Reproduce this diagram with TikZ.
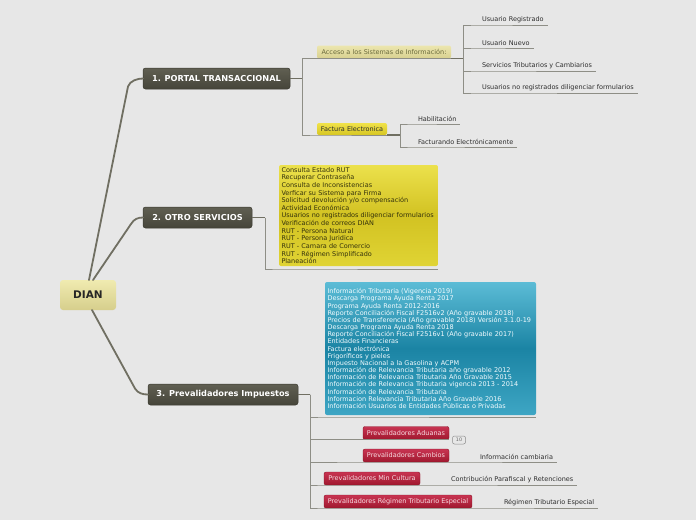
\documentclass[tikz,border=0pt]{standalone}
\usepackage{fontspec}
\setmainfont{DejaVu Sans}
\definecolor{bgc}{HTML}{E7E7E7}
\definecolor{maintop}{HTML}{605F52}
\definecolor{mainbot}{HTML}{46453A}
\definecolor{mainbd}{HTML}{3C3B32}
\definecolor{trunkc}{HTML}{706F62}
\definecolor{linec}{HTML}{8E8E86}
\definecolor{leaftext}{HTML}{2E2E2E}
\definecolor{diantop}{HTML}{F0EBB0}
\definecolor{dianbot}{HTML}{D6CE8C}
\definecolor{acctop}{HTML}{ECE6AE}
\definecolor{accbot}{HTML}{D8D090}
\definecolor{acctext}{HTML}{6A6A3C}
\definecolor{factop}{HTML}{F0E24A}
\definecolor{facbot}{HTML}{D6C622}
\definecolor{ytop}{HTML}{ECE14C}
\definecolor{ymid}{HTML}{D2C222}
\definecolor{ybot}{HTML}{E0D434}
\definecolor{ytext}{HTML}{34320C}
\definecolor{btop}{HTML}{5CBCD6}
\definecolor{bmid}{HTML}{1B84A4}
\definecolor{bbot}{HTML}{3EA6C4}
\definecolor{redtop}{HTML}{C83452}
\definecolor{redbot}{HTML}{A0182E}
\definecolor{redbd}{HTML}{8A1428}
\definecolor{redtext}{HTML}{F8DDE2}
\begin{document}
\begin{tikzpicture}[x=1pt,y=-1pt,
  every node/.style={inner sep=0pt, outer sep=0pt},
  mainnode/.style={rounded corners=2.5pt, draw=mainbd, line width=0.5pt, top color=maintop, bottom color=mainbot, text=white, font=\fontsize{8.2}{9}\selectfont\bfseries, minimum height=21pt},
  diannode/.style={rounded corners=3pt, top color=diantop, bottom color=dianbot, text=black!85, font=\fontsize{10.5}{12}\selectfont\bfseries, minimum width=56pt, minimum height=30pt},
  accnode/.style={rounded corners=2pt, top color=acctop, bottom color=accbot, text=acctext, font=\fontsize{6.5}{7}\selectfont, minimum height=13pt},
  facnode/.style={rounded corners=2pt, top color=factop, bottom color=facbot, text=leaftext, font=\fontsize{6.5}{7}\selectfont, minimum height=12pt},
  rednode/.style={rounded corners=2pt, draw=redbd, line width=0.4pt, top color=redtop, bottom color=redbot, text=redtext, font=\fontsize{6.5}{7}\selectfont, minimum height=13pt},
  leaf/.style={font=\fontsize{6.5}{7}\selectfont, text=leaftext, inner xsep=4pt, inner ysep=2.6pt, anchor=south west},
  listbox/.style={rounded corners=2pt, align=left, anchor=north west, execute at begin node={\hyphenpenalty=10000\exhyphenpenalty=10000}},
  trunk/.style={draw=trunkc, line width=1.8pt, line cap=round},
  joint/.style={draw=trunkc, line width=1.3pt},
  thinline/.style={draw=linec, line width=0.8pt},
  badge/.style={rounded corners=2pt, draw=black!45, line width=0.5pt, fill=bgc, text=black!60, font=\fontsize{4.8}{5}\selectfont, minimum width=13pt, minimum height=8pt}
]
\fill[bgc] (0,0) rectangle (696,520);
\useasboundingbox (0,0) rectangle (696,520);

% central and main nodes
\node[diannode] (dian) at (88,295) {DIAN};
\node[mainnode, minimum width=147pt] (p1) at (216.5,78.5) {1. PORTAL TRANSACCIONAL};
\node[mainnode, minimum width=109pt] (p2) at (197.5,217.5) {2. OTRO SERVICIOS};
\node[mainnode, minimum width=150pt] (p3) at (223,394.5) {3. Prevalidadores Impuestos};

% trunks from DIAN
\draw[trunk] ([xshift=1pt]dian.north) -- ([xshift=-15pt,yshift=-8pt]p1.west) .. controls +(2,-6) and +(-5,0) .. (p1.west);
\draw[trunk] ([xshift=5pt]dian.north) -- ([xshift=-12pt,yshift=-6.5pt]p2.west) .. controls +(3,-5) and +(-5,0) .. (p2.west);
\draw[trunk] ([xshift=4pt]dian.south) -- ([xshift=-13pt,yshift=6pt]p3.west) .. controls +(3,5) and +(-5,0) .. (p3.west);

% ---------- branch 1
\node[accnode, minimum width=134pt] (acc) at (384,52) {Acceso a los Sistemas de Información:};
\node[facnode, minimum width=70pt] (fac) at (352,129) {Factura Electronica};
\path (p1.east) ++(12,0) coordinate (p1j);
\draw[joint] (p1.east) -- (p1j);
\draw[thinline] (p1j) |- (acc.south west) -- (acc.south east);
\draw[thinline] (p1j) |- (fac.south west) -- (fac.south east);

\node[leaf] (l1) at (478,25) {Usuario Registrado};
\node[leaf] (l2) at (478,48) {Usuario Nuevo};
\node[leaf] (l3) at (478,71) {Servicios Tributarios y Cambiarios};
\node[leaf] (l4) at (478,93) {Usuarios no registrados diligenciar formularios};
\path (acc.south east) ++(12,0) coordinate (accj);
\draw[joint] (acc.south east) -- (accj);
\foreach \l in {l1,l2,l3,l4} \draw[thinline] (accj) |- (\l.south west) -- (\l.south east);

\node[leaf] (f1) at (414,124) {Habilitación};
\node[leaf] (f2) at (414,147) {Facturando Electrónicamente};
\path (fac.south east) ++(13,0) coordinate (facj);
\draw[joint] (fac.south east) -- (facj);
\foreach \l in {f1,f2} \draw[thinline] (facj) |- (\l.south west) -- (\l.south east);

% ---------- branch 2
\node[listbox, top color=ytop, bottom color=ybot, middle color=ymid, text=ytext,
  font=\fontsize{6.5}{7.63}\selectfont, text width=154pt, inner xsep=2.5pt,
  minimum height=101pt] (ybox) at (279,165) {Consulta Estado RUT\\
Recuperar Contraseña\\
Consulta de Inconsistencias\\
Verficar su Sistema para Firma\\
Solicitud devolución y/o compensación\\
Actividad Económica\\
Usuarios no registrados diligenciar formularios\\
Verificación de correos DIAN\\
RUT - Persona Natural\\
RUT - Persona Juridica\\
RUT - Camara de Comercio\\
RUT - Régimen Simplificado\\
Planeación};
\path (p2.east) ++(13,0) coordinate (p2j);
\draw[joint] (p2.east) -- (p2j);
\draw[thinline] (p2j) |- ([yshift=-3pt]ybox.south west) -- ([yshift=-3pt]ybox.south east);

% ---------- branch 3
\node[listbox, top color=btop, bottom color=bbot, middle color=bmid, text=white!95!cyan,
  font=\fontsize{6.5}{7.16}\selectfont, text width=206pt, inner xsep=2.5pt,
  minimum height=133pt] (bbox) at (325,282) {Información Tributaria (Vigencia 2019)\\
Descarga Programa Ayuda Renta 2017\\
Programa Ayuda Renta 2012-2016\\
Reporte Conciliación Fiscal F2516v2 (Año gravable 2018)\\
Precios de Transferencia (Año gravable 2018) Versión 3.1.0-19\\
Descarga Programa Ayuda Renta 2018\\
Reporte Conciliación Fiscal F2516v1 (Año gravable 2017)\\
Entidades Financieras\\
Factura electrónica\\
Frigoríficos y pieles\\
Impuesto Nacional a la Gasolina y ACPM\\
Información de Relevancia Tributaria año gravable 2012\\
Información de Relevancia Tributaria Año Gravable 2015\\
Información de Relevancia Tributaria vigencia 2013 - 2014\\
Información de Relevancia Tributaria\\
Informacion Relevancia Tributaria Año Gravable 2016\\
Información Usuarios de Entidades Públicas o Privadas};

\node[rednode, minimum width=86pt] (adu) at (406,433) {Prevalidadores Aduanas};
\node[rednode, minimum width=86pt] (cam) at (406,455.5) {Prevalidadores Cambios};
\node[rednode, minimum width=96pt] (minc) at (372,478.5) {Prevalidadores Min Cultura};
\node[rednode, minimum width=148pt] (reg) at (398,501.5) {Prevalidadores Régimen Tributario Especial};
\node[badge] (ten) at (459,440) {10};

\node[leaf] (ic) at (476,462) {Información cambiaria};
\node[leaf] (cp) at (447,485) {Contribución Parafiscal y Retenciones};
\node[leaf] (rt) at (500,508) {Régimen Tributario Especial};

\path (p3.east) ++(12,0) coordinate (p3j);
\draw[joint] (p3.east) -- (p3j);
\draw[thinline] (p3j) |- ([yshift=-2pt]bbox.south west) -- ([yshift=-2pt]bbox.south east);
\draw[thinline] (p3j) |- (adu.south west) -- (adu.south east);
\draw[thinline] (p3j) |- (cam.south west) -- (cam.south east) -- (ic.south east);
\draw[thinline] (p3j) |- (minc.south west) -- (minc.south east) -- (cp.south east);
\draw[thinline] (p3j) |- (reg.south west) -- (reg.south east) -- (rt.south east);
\end{tikzpicture}
\end{document}
